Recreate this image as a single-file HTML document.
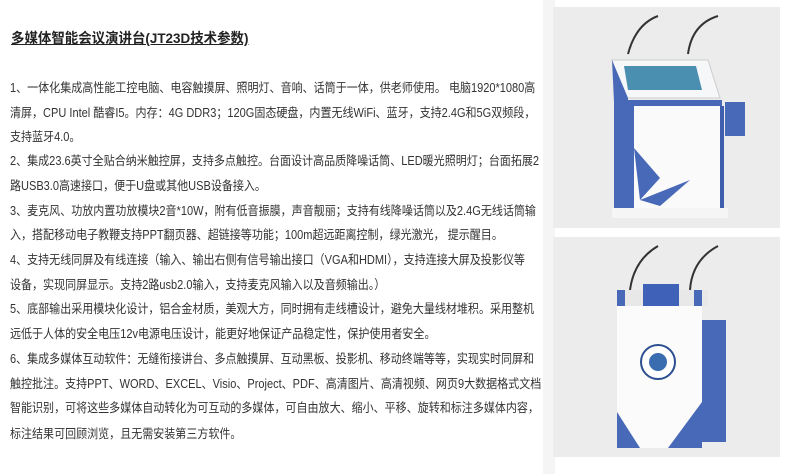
<!DOCTYPE html>
<html><head><meta charset="utf-8"><style>
body{margin:0;width:800px;height:474px;background:#fff;overflow:hidden;position:relative;font-family:"Liberation Sans","Noto Sans CJK SC",sans-serif;color:#333;}
.t{position:absolute;left:10px;font-size:12.6px;white-space:nowrap;line-height:16px;transform:scaleX(0.875);transform-origin:0 0;}
.h{position:absolute;left:11px;top:28px;font-size:14px;font-weight:bold;text-decoration:underline;color:#222;transform:scaleX(0.96);transform-origin:0 0;}
</style></head><body>
<div style="position:absolute;left:543px;top:0;width:12px;height:474px;background:#f5f5f5"></div>
<div class="h">多媒体智能会议演讲台(JT23D技术参数)</div>
<div class="t" style="top:80px">1、一体化集成高性能工控电脑、电容触摸屏、照明灯、音响、话筒于一体，供老师使用。 电脑1920*1080高</div>
<div class="t" style="top:105px">清屏，CPU Intel 酷睿I5。内存：4G DDR3；120G固态硬盘，内置无线WiFi、蓝牙，支持2.4G和5G双频段，</div>
<div class="t" style="top:129px">支持蓝牙4.0。</div>
<div class="t" style="top:153px">2、集成23.6英寸全贴合纳米触控屏，支持多点触控。台面设计高品质降噪话筒、LED暖光照明灯；台面拓展2</div>
<div class="t" style="top:178px">路USB3.0高速接口，便于U盘或其他USB设备接入。</div>
<div class="t" style="top:203px">3、麦克风、功放内置功放模块2音*10W，附有低音振膜，声音靓丽；支持有线降噪话筒以及2.4G无线话筒输</div>
<div class="t" style="top:227px">入，搭配移动电子教鞭支持PPT翻页器、超链接等功能；100m超远距离控制，绿光激光， 提示醒目。</div>
<div class="t" style="top:252px">4、支持无线同屏及有线连接（输入、输出右侧有信号输出接口（VGA和HDMI），支持连接大屏及投影仪等</div>
<div class="t" style="top:277px">设备，实现同屏显示。支持2路usb2.0输入，支持麦克风输入以及音频输出。）</div>
<div class="t" style="top:301px">5、底部输出采用模块化设计，铝合金材质，美观大方，同时拥有走线槽设计，避免大量线材堆积。采用整机</div>
<div class="t" style="top:326px">远低于人体的安全电压12v电源电压设计，能更好地保证产品稳定性，保护使用者安全。</div>
<div class="t" style="top:351px">6、集成多媒体互动软件：无缝衔接讲台、多点触摸屏、互动黑板、投影机、移动终端等等，实现实时同屏和</div>
<div class="t" style="top:376px">触控批注。支持PPT、WORD、EXCEL、Visio、Project、PDF、高清图片、高清视频、网页9大数据格式文档</div>
<div class="t" style="top:400px">智能识别，可将这些多媒体自动转化为可互动的多媒体，可自由放大、缩小、平移、旋转和标注多媒体内容，</div>
<div class="t" style="top:426px">标注结果可回顾浏览，且无需安装第三方软件。</div>
<svg style="position:absolute;left:0;top:0" width="800" height="474">
<rect x="553" y="7" width="227" height="221" fill="#ececed"/>
<path d="M628 54 q8-30 30-38" stroke="#333" stroke-width="2" fill="none"/>
<path d="M688 54 q4-30 30-38" stroke="#333" stroke-width="2" fill="none"/>
<polygon points="612,60 708,60 720,98 620,98" fill="#f6f7f9" stroke="#ccc"/>
<polygon points="624,66 696,66 702,90 628,90" fill="#4a8fb0"/>
<polygon points="612,60 628,98 628,102 614,102" fill="#4868b8"/>
<rect x="614" y="100" width="108" height="6" fill="#4868b8"/>
<rect x="614" y="100" width="20" height="110" fill="#4868b8"/>
<rect x="634" y="106" width="86" height="104" fill="#fafafa"/>
<rect x="720" y="106" width="4" height="104" fill="#3f5fae"/>
<rect x="725" y="102" width="20" height="34" fill="#4868b8"/>
<polygon points="634,148 660,178 640,200" fill="#4868b8"/>
<polygon points="640,200 690,180 660,206" fill="#4868b8"/>
<rect x="612" y="208" width="116" height="10" fill="#f5f5f5"/>
<rect x="553" y="237" width="227" height="220" fill="#ececed"/>
<path d="M630 290 q4-30 28-44" stroke="#333" stroke-width="2" fill="none"/>
<path d="M690 290 q2-30 28-44" stroke="#333" stroke-width="2" fill="none"/>
<rect x="618" y="290" width="90" height="16" fill="#e8e8e8"/>
<rect x="643" y="284" width="36" height="24" fill="#3f62b8"/>
<rect x="617" y="290" width="8" height="30" fill="#4868b8"/>
<rect x="694" y="290" width="8" height="30" fill="#4868b8"/>
<rect x="617" y="306" width="85" height="142" fill="#fbfbfb"/>
<rect x="702" y="320" width="24" height="122" fill="#4868b8"/>
<circle cx="658" cy="362" r="17" fill="#fff" stroke="#2b4f8f" stroke-width="2"/>
<circle cx="658" cy="362" r="9" fill="#3a6cb0"/>
<polygon points="617,412 640,448 617,448" fill="#4868b8"/>
<polygon points="702,402 702,448 668,448" fill="#4868b8"/>
</svg>
</body></html>
